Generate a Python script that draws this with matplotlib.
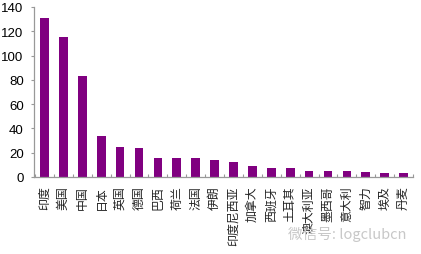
import matplotlib
matplotlib.use("Agg")
import matplotlib.pyplot as plt
import numpy as np

countries = ["印度", "美国", "中国", "日本", "英国", "德国", "巴西", "荷兰", "法国", "伊朗",
             "印度尼西亚", "加拿大", "西班牙", "土耳其", "澳大利亚", "墨西哥", "意大利", "智力",
             "埃及", "丹麦"]
values = [131, 115, 83, 33.5, 25, 24, 16, 16, 16, 14.3,
          12, 9.3, 7.1, 7, 4.9, 5, 5.2, 4.4, 3.3, 3.3]
y_ticks = [0, 20, 40, 60, 80, 100, 120, 140]

plt.rcParams["font.family"] = ["Liberation Sans", "Noto Sans CJK SC", "DejaVu Sans"]

fig = plt.figure(figsize=(4.21, 2.55), dpi=100)
ax = fig.add_axes([0.081, 0.302, 0.900, 0.667])

x = np.arange(len(countries))
ax.bar(x, values, width=0.46, color="#800080")

ax.set_xlim(-0.55, len(countries) - 0.55)
ax.set_ylim(0, 140)
ax.set_yticks(y_ticks)
ax.set_yticklabels([str(t) for t in y_ticks], fontsize=9.5)

ax.set_xticks(x)
ax.set_xticklabels(countries, rotation=90, fontsize=8.6,
                   family=["Noto Sans CJK SC", "DejaVu Sans"], color="#222222")
ax.set_xticks(np.arange(len(countries) + 1) - 0.5, minor=True)
ax.tick_params(axis="x", which="major", length=0, pad=6)
ax.tick_params(axis="x", which="minor", direction="in", length=2.5, color="#999999", width=0.8)
ax.tick_params(axis="y", direction="out", length=2.5, color="#999999", width=0.8, pad=5)

for side in ("top", "right"):
    ax.spines[side].set_visible(False)
for side in ("left", "bottom"):
    ax.spines[side].set_color("#999999")
    ax.spines[side].set_linewidth(0.9)

fig.text(0.684, 0.062, "微信号: logclubcn", fontsize=10.5, color="#c8c8c8",
         family=["Noto Sans CJK SC", "DejaVu Sans"])

fig.savefig("out.png", dpi=100)
